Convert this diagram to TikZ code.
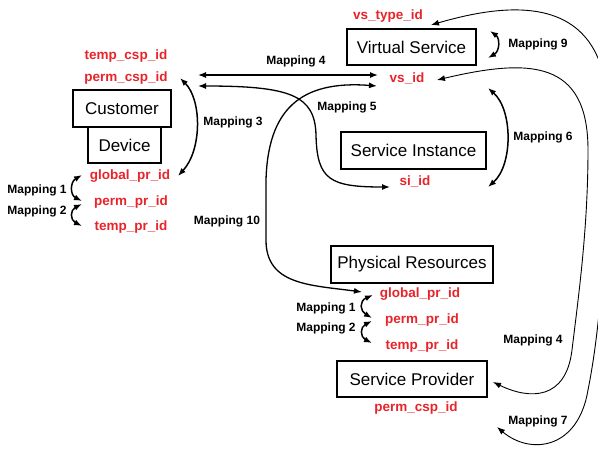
\documentclass[tikz,border=0pt]{standalone}
\usepackage{fontspec}
\setmainfont{Liberation Sans}
\usetikzlibrary{arrows.meta}
\definecolor{idred}{RGB}{232,36,42}

\begin{document}
\begin{tikzpicture}[x=1pt,y=-1pt,
  entity/.style={draw,line width=2pt,inner sep=0pt,font=\fontsize{17}{20}\selectfont},
  ident/.style={text=idred,font=\fontsize{13.5}{16}\selectfont\bfseries,inner sep=0pt},
  maplab/.style={font=\fontsize{12}{14}\selectfont\bfseries,inner sep=0pt},
  tip/.tip={Latex[length=8pt,width=6pt]},
  link/.style={line width=1.3pt,tip-tip},
  twist/.style={line width=1.5pt,tip-tip},
  loopback/.style={line width=0.9pt,tip-tip}]

\clip (0,0) rectangle (598,448);

% entities
\node[entity,minimum width=129pt,minimum height=36pt] (vs) at (411.5,47) {Virtual Service};
\node[entity,minimum width=98pt,minimum height=37pt] (cust) at (122,108.5) {Customer};
\node[entity,minimum width=73pt,minimum height=36pt] (dev) at (124.5,145) {Device};
\node[entity,minimum width=145pt,minimum height=37pt] (si) at (413.5,150.5) {Service Instance};
\node[entity,minimum width=162pt,minimum height=37pt] (pr) at (412,264.5) {Physical Resources};
\node[entity,minimum width=150pt,minimum height=36pt] (sp) at (412,379) {Service Provider};

% identifiers
\node[ident] (vstype) at (388,16) {vs\_type\_id};
\node[ident] (tcsp) at (126,56) {temp\_csp\_id};
\node[ident] (pcsp) at (126,78) {perm\_csp\_id};
\node[ident] (vsid) at (407,78) {vs\_id};
\node[ident] (siid) at (415,181) {si\_id};
\node[ident] (lgpr) at (130,176) {global\_pr\_id};
\node[ident] (lppr) at (131,202) {perm\_pr\_id};
\node[ident] (ltpr) at (131,227) {temp\_pr\_id};
\node[ident] (rgpr) at (420,294) {global\_pr\_id};
\node[ident] (rppr) at (422,320) {perm\_pr\_id};
\node[ident] (rtpr) at (422,346) {temp\_pr\_id};
\node[ident] (spcsp) at (416,408) {perm\_csp\_id};

% mapping labels
\node[maplab] (m9) at (538,44) {Mapping 9};
\node[maplab] (m4a) at (296,61) {Mapping 4};
\node[maplab] (m3) at (233,122) {Mapping 3};
\node[maplab] (m5) at (347,107) {Mapping 5};
\node[maplab] (m6) at (543,137) {Mapping 6};
\node[maplab] (m10) at (227,221) {Mapping 10};
\node[maplab] (lm1) at (37,190) {Mapping 1};
\node[maplab] (lm2) at (37,211) {Mapping 2};
\node[maplab] (rm1) at (326,308) {Mapping 1};
\node[maplab] (rm2) at (326,328) {Mapping 2};
\node[maplab] (m4b) at (533,340) {Mapping 4};
\node[maplab] (m7) at (538,421) {Mapping 7};

% connector ends beside the identifiers
\coordinate (pcsp-1) at (198,75);
\coordinate (pcsp-2) at (198,86);
\coordinate (pcsp-3) at (180,78);
\coordinate (vsid-1) at (378,75);
\coordinate (vsid-2) at (377,86);
\coordinate (vsid-3) at (437,80);
\coordinate (vsid-4) at (488,88);
\coordinate (vstype-1) at (431,25);
\coordinate (vs-1) at (490,31);
\coordinate (vs-2) at (488,58);
\coordinate (siid-1) at (390,187);
\coordinate (siid-2) at (488,187);
\coordinate (lgpr-1) at (178,176);
\coordinate (lgpr-2) at (82,175);
\coordinate (lppr-1) at (82,201);
\coordinate (lppr-2) at (82,204);
\coordinate (ltpr-1) at (82,226);
\coordinate (rgpr-1) at (362,292);
\coordinate (rgpr-2) at (373,295);
\coordinate (rppr-1) at (372,318);
\coordinate (rppr-2) at (372,321);
\coordinate (rtpr-1) at (372,343);
\coordinate (sp-1) at (493,382);
\coordinate (spcsp-1) at (497,427);

% Mapping 4 (perm_csp_id <-> vs_id)
\draw[link] (pcsp-1) -- (vsid-1);
% Mapping 5 (perm_csp_id <-> si_id)
\draw[link] (pcsp-2) .. controls (290,86) and (315,95) .. (316,135)
  .. controls (317,180) and (330,187) .. (siid-1);
% Mapping 10 (vs_id <-> global_pr_id)
\draw[link] (vsid-2) .. controls (300,80) and (268,110) .. (266,180)
  -- (266,240) .. controls (266,285) and (310,285) .. (rgpr-1);
% Mapping 3
\draw[twist] (pcsp-3) .. controls (202,100) and (202,150) .. (lgpr-1);
% Mapping 6
\draw[twist] (vsid-4) .. controls (513,110) and (513,165) .. (siid-2);
% Mapping 9
\draw[twist] (vs-1) .. controls (500,38) and (500,51) .. (vs-2);
% Mapping 1 / 2, customer side
\draw[twist] (lgpr-2) .. controls (70,182) and (70,195) .. (lppr-1);
\draw[twist] (lppr-2) .. controls (70,210) and (70,220) .. (ltpr-1);
% Mapping 1 / 2, provider side
\draw[twist] (rgpr-2) .. controls (359,301) and (360,311) .. (rppr-1);
\draw[twist] (rppr-2) .. controls (360,327) and (360,337) .. (rtpr-1);
% Mapping 4 (vs_id <-> Service Provider)
\draw[loopback] (vsid-3) .. controls (530,58) and (588,60) .. (588,150)
  .. controls (588,230) and (578,300) .. (572,350)
  .. controls (566,400) and (530,400) .. (sp-1);
% Mapping 7 (vs_type_id <-> perm_csp_id)
\draw[loopback] (vstype-1) .. controls (510,2) and (610,-10) .. (608,120)
  .. controls (606,250) and (600,330) .. (588,390)
  .. controls (578,450) and (530,455) .. (spcsp-1);
\end{tikzpicture}
\end{document}
